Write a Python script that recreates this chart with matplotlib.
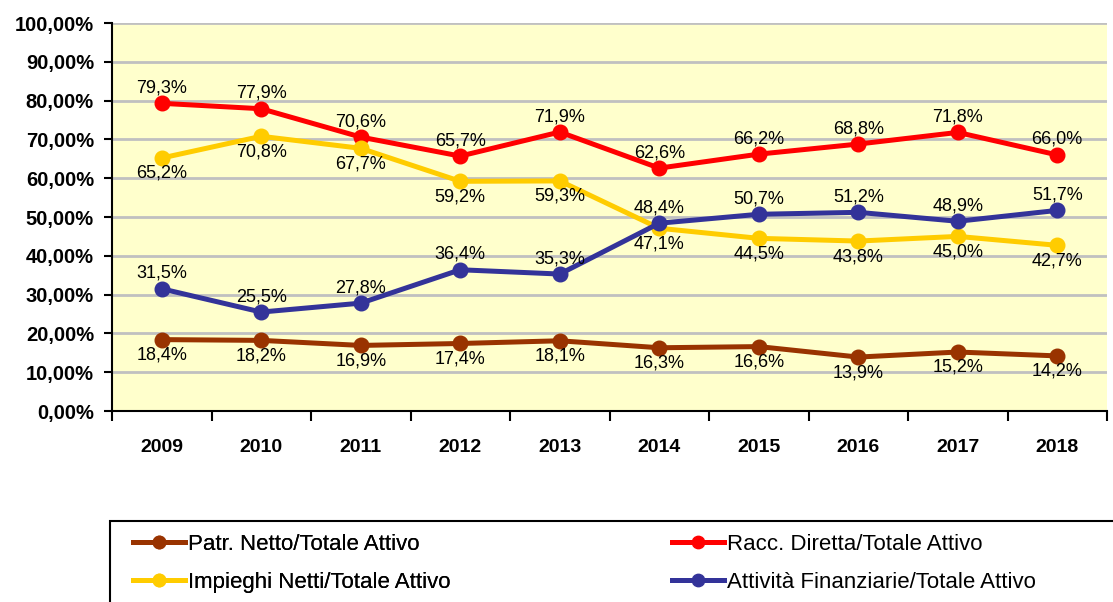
import numpy as np
import matplotlib.pyplot as plt
from matplotlib.patches import Rectangle

plt.rcParams['font.family'] = ['Liberation Sans', 'DejaVu Sans']

anni = ['2009', '2010', '2011', '2012', '2013', '2014', '2015', '2016', '2017', '2018']
patr_netto = [18.4, 18.2, 16.9, 17.4, 18.1, 16.3, 16.6, 13.9, 15.2, 14.2]
racc_diretta = [79.3, 77.9, 70.6, 65.7, 71.9, 62.6, 66.2, 68.8, 71.8, 66.0]
impieghi = [65.2, 70.8, 67.7, 59.2, 59.3, 47.1, 44.5, 43.8, 45.0, 42.7]
att_fin = [31.5, 25.5, 27.8, 36.4, 35.3, 48.4, 50.7, 51.2, 48.9, 51.7]

serie = [
    ('Patr. Netto/Totale Attivo', patr_netto, '#993300', 'below'),
    ('Racc. Diretta/Totale Attivo', racc_diretta, '#ff0000', 'above'),
    ('Impieghi Netti/Totale Attivo', impieghi, '#ffcc00', 'below'),
    ('Attività Finanziarie/Totale Attivo', att_fin, '#333399', 'above'),
]

fig = plt.figure(figsize=(11.13, 6.02), dpi=100)
ax = fig.add_axes([112/1113, 1-411/602, 995/1113, 388/602])
ax.set_facecolor('#ffffcc')

x = np.arange(len(anni))
handles = []
for nome, vals, col, pos in serie:
    h, = ax.plot(x, vals, '-o', color=col, lw=3.6, ms=10.5, label=nome, zorder=3)
    handles.append(h)
    for xi, v in zip(x, vals):
        lab = ('%.1f%%' % v).replace('.', ',')
        if pos == 'above':
            ax.annotate(lab, (xi, v), xytext=(0, 5), textcoords='offset points',
                        ha='center', va='bottom', fontsize=13, zorder=4)
        else:
            ax.annotate(lab, (xi, v), xytext=(0, -5), textcoords='offset points',
                        ha='center', va='top', fontsize=13, zorder=4)

ax.set_xlim(-0.5, 9.5)
ax.set_ylim(0, 100)
ax.set_yticks(np.arange(0, 101, 10))
ax.set_yticklabels([('%.2f%%' % v).replace('.', ',') for v in np.arange(0, 101, 10)],
                   fontsize=14.5, fontweight='bold')
ax.set_xticks(x)
ax.set_xticklabels(anni, fontsize=14, fontweight='bold')
ax.set_xticks(np.arange(-0.5, 10, 1), minor=True)
ax.tick_params(axis='x', which='major', length=0, pad=20)
ax.tick_params(axis='x', which='minor', length=7, width=1.5, direction='out')
ax.tick_params(axis='y', length=6, width=1.5, direction='out', pad=7)
ax.yaxis.grid(True, color='#c0c0c0', lw=2)
ax.set_axisbelow(True)
for s in ['top', 'right']:
    ax.spines[s].set_visible(False)
ax.spines['left'].set_linewidth(1.5)
ax.spines['bottom'].set_linewidth(1.5)

fig.patches.append(Rectangle((110/1113, -0.2), 1.0, 0.2 + 1-521/602,
                             transform=fig.transFigure, fill=False,
                             edgecolor='black', lw=1.5))

leg_kw = dict(loc='upper left', frameon=False, fontsize=16, handlelength=2.35,
              handletextpad=0.12, labelspacing=0.75, markerscale=0.85,
              borderpad=0, borderaxespad=0)
leg1 = fig.legend(handles=[handles[0], handles[2]], bbox_to_anchor=(133/1113, 1-534/602), **leg_kw)
fig.add_artist(leg1)
fig.legend(handles=[handles[1], handles[3]], bbox_to_anchor=(672/1113, 1-534/602), **leg_kw)

fig.savefig('out.png', dpi=100)
